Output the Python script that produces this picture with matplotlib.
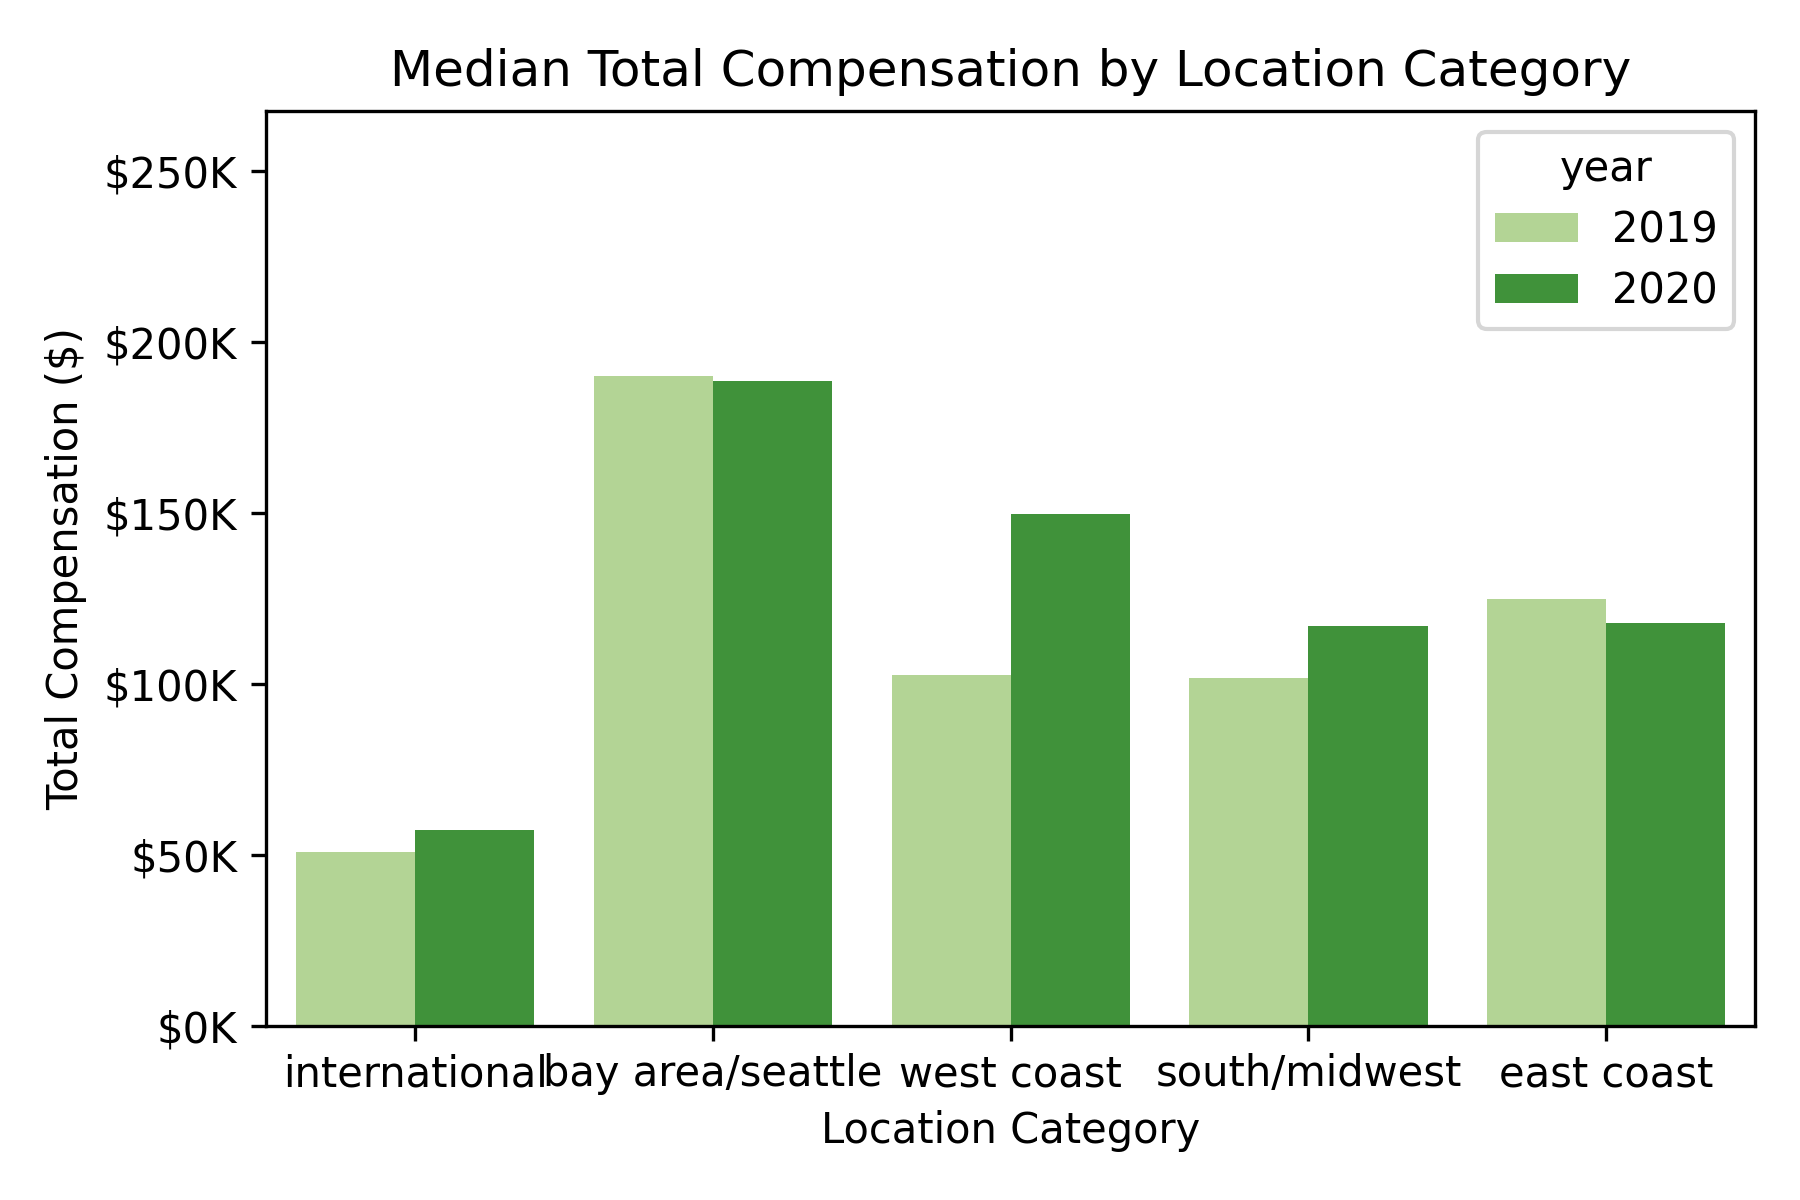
import pandas as pd
import seaborn as sns
import matplotlib.pyplot as plt
from matplotlib.ticker import FuncFormatter

# valori (mediana compensazione totale, $)
locations = ["international", "bay area/seattle", "west coast", "south/midwest", "east coast"]
comp_2019 = [51000, 189900, 102600, 101700, 124900]
comp_2020 = [57300, 188700, 149800, 116900, 117800]

df = pd.DataFrame({
    "location_category": locations * 2,
    "year": ["2019"] * 5 + ["2020"] * 5,
    "totalyearlycompensation": comp_2019 + comp_2020,
})

fig, ax = plt.subplots(figsize=(6, 4), dpi=300)
sns.barplot(data=df, x="location_category", y="totalyearlycompensation",
            hue="year", palette=["#b2df8a", "#33a02c"], ax=ax)

ax.set_ylim(0, 267500)
ax.yaxis.set_major_formatter(FuncFormatter(lambda v, p: f"${v/1000:.0f}K"))
ax.set_title("Median Total Compensation by Location Category")
ax.set_xlabel("Location Category", labelpad=3.5)
ax.set_ylabel("Total Compensation ($)")
ax.tick_params(axis="x", pad=3)
ax.legend(title="year", loc="upper right", labelspacing=0.45)
plt.subplots_adjust(left=0.148, right=0.975, top=0.9075, bottom=0.145)
plt.savefig("out.png")
